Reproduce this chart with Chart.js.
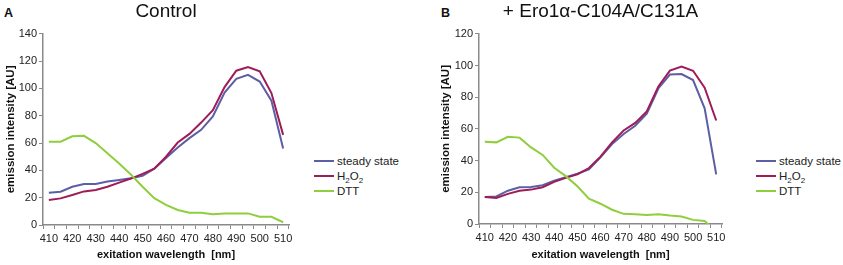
<!DOCTYPE html>
<html>
<head>
<meta charset="utf-8">
<script src="https://cdn.jsdelivr.net/npm/chart.js@4"></script>
<style>
  body { margin: 0; background: #fff; font-family: "Liberation Sans", Arial, sans-serif; }
  #wrap { position: relative; width: 843px; height: 265px; background: #fff; overflow: hidden; }
  .panel { position: absolute; top: 0; }
  .letter { position: absolute; font-weight: bold; font-size: 12.5px; color: #111; }
  .legend { position: absolute; font-size: 11.5px; color: #222; }
  .legend .row { display: flex; align-items: center; height: 15px; white-space: nowrap; }
  .legend .swatch { width: 20px; height: 2px; margin-right: 3px; }
  .legend sub { font-size: 8px; vertical-align: -3px; line-height: 0; }
</style>
</head>
<body>
<div id="wrap">
  <div class="letter" style="left:4px;top:6px">A</div>
  <div class="letter" style="left:441px;top:6px">B</div>
  <div class="panel" style="left:0px"><canvas id="chartA" width="300" height="265"></canvas></div>
  <div class="panel" style="left:435px"><canvas id="chartB" width="300" height="265"></canvas></div>
  <div class="legend" id="legendA" style="left:314px;top:153px"></div>
  <div class="legend" id="legendB" style="left:756px;top:153px"></div>
</div>
<script>
// excitation wavelengths [nm]
const wavelengths = [410, 415, 420, 425, 430, 435, 440, 445, 450, 455, 460,
                     465, 470, 475, 480, 485, 490, 495, 500, 505, 510];

// panel A: Control
const ctrlSteady = [23.7, 24.4, 28, 30, 30, 31.8, 33, 34.2, 36, 41.3, 49,
                    56.7, 63.6, 69.7, 79.5, 97, 107, 110, 105, 91, 56];
const ctrlH2O2 = [18.3, 19.5, 22, 24.6, 25.7, 28, 31, 34, 37.4, 41.3, 50,
                  60.4, 66.7, 75, 84, 101, 113, 115.6, 112.5, 96.6, 66];
const ctrlDTT = [61, 61, 65, 65.3, 60, 52.6, 45, 37, 28, 19.6, 14.7,
                 11, 9, 9, 7.8, 8.5, 8.5, 8.5, 6, 6, 2];

// panel B: + Ero1a-C104A/C131A
const eroSteady = [17, 17.4, 21, 23.2, 23.4, 24.5, 27.4, 29.6, 31.7, 34.5, 42,
                   50.4, 56.8, 62, 69.6, 85.5, 94.3, 94.6, 90.8, 73, 31.3];
const eroH2O2 = [17, 16.4, 19, 21, 21.7, 23.2, 26.6, 29.1, 31.3, 35.3, 42.5,
                 51.5, 59, 63.8, 71, 86.8, 96.8, 99.4, 96.7, 86, 65.3];
const eroDTT = [51.9, 51.5, 55, 54.5, 48.3, 43.6, 35.5, 30.2, 23.8, 16, 12.8,
                9, 6.4, 6.2, 5.7, 6.2, 5.3, 4.7, 2.6, 1.9, -5];

const seriesNames = ["steady state", "H2O2", "DTT"];
const seriesColors = ["#5c5fa4", "#9e1d58", "#8fce3c"];

const FONT = "'Liberation Sans', Arial, sans-serif";
const axisGrey = "#8a8a8a";

function makeDatasets(values) {
  return values.map((v, i) => ({
    label: seriesNames[i],
    data: v,
    borderColor: seriesColors[i],
    backgroundColor: seriesColors[i],
    borderWidth: 2,
    pointRadius: 0,
    tension: 0,
    fill: false,
    order: 3 - i, // DTT on top, like the original
  }));
}

function createPanel(canvasId, title, values, yMax, yWidth, xHeight, padRight) {
  const config = {
    type: "line",
    data: { labels: wavelengths, datasets: makeDatasets(values) },
    options: {
      responsive: false,
      animation: false,
      layout: { padding: { top: 0, right: padRight, bottom: 0, left: 0 } },
      scales: {
        x: {
          type: "category",
          offset: true,
          grid: {
            offset: true,
            drawOnChartArea: false,
            drawTicks: true,
            tickLength: 4,
            color: axisGrey,
          },
          border: { color: axisGrey, width: 1.5 },
          ticks: {
            autoSkip: false,
            maxRotation: 0,
            padding: 3,
            color: "#222",
            font: { family: FONT, size: 11 },
            callback: (val, i) => (i % 2 === 0 ? wavelengths[i] : ""),
          },
          title: {
            display: true,
            text: "exitation wavelength  [nm]",
            color: "#111",
            font: { family: FONT, size: 11, weight: "bold" },
            padding: { top: 2, bottom: 3 },
          },
          afterFit: (s) => { s.height = xHeight; },
        },
        y: {
          min: 0,
          max: yMax,
          ticks: {
            stepSize: 20,
            padding: 2,
            color: "#222",
            font: { family: FONT, size: 11 },
          },
          grid: {
            drawOnChartArea: false,
            drawTicks: true,
            tickLength: 4,
            color: axisGrey,
          },
          border: { color: axisGrey, width: 1.5 },
          title: {
            display: true,
            text: "emission intensity [AU]",
            color: "#111",
            font: { family: FONT, size: 11.5, weight: "bold" },
            padding: { top: 4, bottom: 2 },
          },
          afterFit: (s) => { s.width = yWidth; },
        },
      },
      plugins: {
        legend: false,
        tooltip: { enabled: false },
        title: {
          display: true,
          text: title,
          fullSize: false,
          color: "#111",
          font: { family: FONT, size: 19, weight: "normal", lineHeight: 1.2 },
          padding: { top: 0, bottom: 11 },
        },
      },
    },
  };
  return new Chart(document.getElementById(canvasId), config);
}

function buildLegend(chart, legendId) {
  const box = document.getElementById(legendId);
  chart.data.datasets.forEach((ds) => {
    const row = document.createElement("div");
    row.className = "row";
    const sw = document.createElement("span");
    sw.className = "swatch";
    sw.style.background = ds.borderColor;
    const txt = document.createElement("span");
    txt.innerHTML = ds.label === "H2O2" ? "H<sub>2</sub>O<sub>2</sub>" : ds.label;
    row.appendChild(sw);
    row.appendChild(txt);
    box.appendChild(row);
  });
}

document.addEventListener("DOMContentLoaded", () => {
  const a = createPanel("chartA", "Control", [ctrlSteady, ctrlH2O2, ctrlDTT], 140, 43, 40, 11);
  const b = createPanel("chartB", "+ Ero1\u03b1-C104A/C131A", [eroSteady, eroH2O2, eroDTT], 120, 44, 41, 13);
  buildLegend(a, "legendA");
  buildLegend(b, "legendB");
});
</script>
</body>
</html>
